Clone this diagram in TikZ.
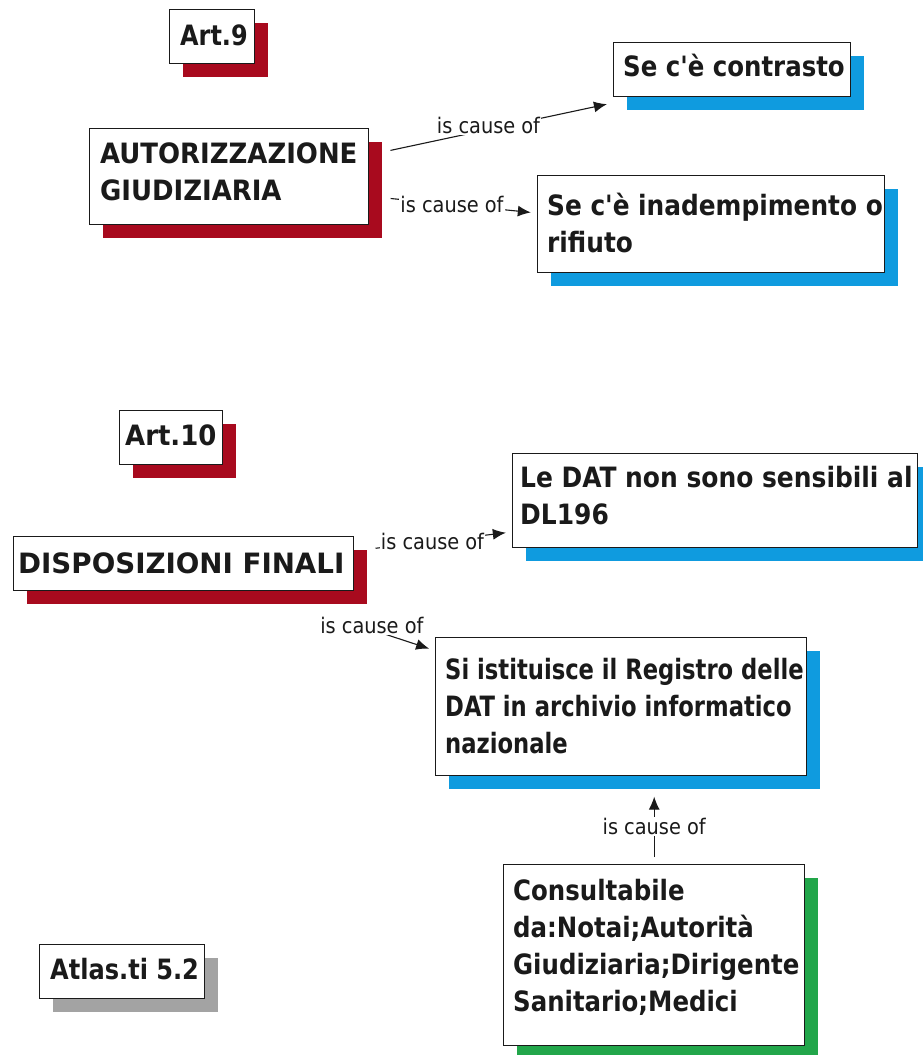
\documentclass[tikz,border=0pt]{standalone}
\usepackage{graphicx}
\usepackage{fontspec}
\setmainfont{DejaVu Sans Condensed}
\usetikzlibrary{fit,arrows.meta,calc}
\definecolor{sred}{HTML}{A80A1E}
\definecolor{sblue}{HTML}{0F9BDF}
\definecolor{sgreen}{HTML}{22A64A}
\definecolor{sgray}{HTML}{A3A3A3}
\definecolor{ink}{HTML}{1A1A1A}
\tikzset{
  bx/.style={draw=ink, line width=1.4pt, fill=white, rectangle, inner sep=0pt},
  shd/.style={fill=#1, draw=none, rectangle, inner sep=0pt},
  tx/.style={anchor=base west, inner sep=0pt, font=\bfseries\fontsize{28}{37}\selectfont, text=ink},
  grp/.style={inner sep=0pt, draw=none},
  conn/.style={draw=ink, line width=1.1pt, -{Latex[length=13pt,width=11pt]}, shorten <=8pt, shorten >=6pt},
  lbl/.style={fill=white, inner sep=1pt, font=\fontsize{21.5}{24}\selectfont, text=ink},
}
\def\tsc{1}
% #1 name, #2 x1, #3 y1, #4 x2, #5 y2, #6 colour, #7 text dx, #8 first baseline dy, #9 text
\newcommand{\conceptbox}[9]{%
  \pgfmathsetmacro\bxw{#4-#2}\pgfmathsetmacro\bxh{#5-#3}%
  \node[shd=#6, minimum width=\bxw pt, minimum height=\bxh pt, anchor=north west] (#1s) at (#2+14,#3+14) {};
  \node[bx, minimum width=\bxw pt, minimum height=\bxh pt, anchor=north west] (#1) at (#2,#3) {};
  \node[tx] (#1t) at (#2+#7,#3+#8) {\scalebox{\tsc}[1]{\begin{tabular}[t]{@{}l@{}}#9\end{tabular}}};
  \node[grp, fit=(#1)(#1s)] (#1g) {};
}
\newcommand{\ap}{\textquotesingle}
\begin{document}
\begin{tikzpicture}[x=1pt,y=-1pt]
\useasboundingbox[fill=white] (0,0) rectangle (922,1055);

\def\tsc{0.95}\conceptbox{art9}{169}{9}{254}{63}{sred}{11}{36}{Art.9}
\def\tsc{1.03}\conceptbox{autor}{89}{128}{368}{224}{sred}{11}{35}{AUTORIZZAZIONE\\GIUDIZIARIA}
\def\tsc{0.97}\conceptbox{contr}{613}{42}{850}{96}{sblue}{10}{34}{Se c\ap è contrasto}
\def\tsc{0.985}\conceptbox{inad}{537}{175}{884}{272}{sblue}{10}{40}{Se c\ap è inadempimento o\\rifiuto}
\def\tsc{1.03}\conceptbox{art10}{119}{410}{222}{464}{sred}{6}{35}{Art.10}
\def\tsc{1.1}\conceptbox{disp}{13}{536}{353}{590}{sred}{5}{37}{DISPOSIZIONI FINALI}
\def\tsc{0.99}\conceptbox{ledat}{512}{453}{917}{547}{sblue}{8}{34}{Le DAT non sono sensibili al\\DL196}
\def\tsc{0.9}\conceptbox{si}{435}{637}{806}{775}{sblue}{10}{42}{Si istituisce il Registro delle\\DAT in archivio informatico\\nazionale}
\def\tsc{0.97}\conceptbox{cons}{503}{864}{804}{1045}{sgreen}{10}{36}{Consultabile\\da:Notai;Autorità\\Giudiziaria;Dirigente\\Sanitario;Medici}
\def\tsc{0.955}\conceptbox{atlas}{39}{944}{204}{998}{sgray}{11}{35}{Atlas.ti 5.2}

\draw[conn] (autorg) -- node[lbl, pos=0.46, yshift=4pt] (l1) {is cause of} (contrg);
\draw[conn] (autorg) -- node[lbl, pos=0.45] (l2) {is cause of} (inadg);
\draw[conn] (dispg) -- node[lbl, pos=0.45] (l3) {is cause of} (ledatg);
\draw[conn, shorten <=45pt] (dispg) -- node[lbl, pos=0.55, yshift=4pt] (l4) {is cause of} (sig);
\draw[conn, shorten <=7pt, shorten >=7pt] (cons.north) -- node[lbl, midway] (l5) {is cause of} (cons.north |- sig.south);
\end{tikzpicture}
\end{document}
